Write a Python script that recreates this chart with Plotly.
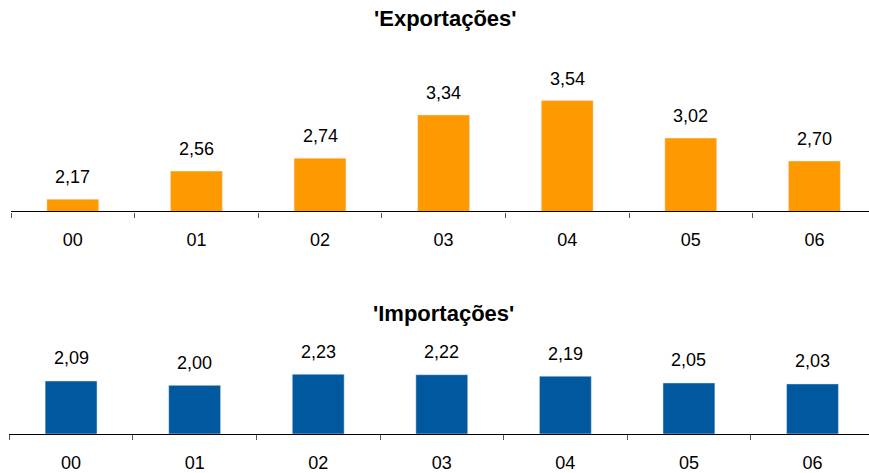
import plotly.graph_objects as go

categories = ["00", "01", "02", "03", "04", "05", "06"]
exportacoes = [2.17, 2.56, 2.74, 3.34, 3.54, 3.02, 2.70]
importacoes = [2.09, 2.00, 2.23, 2.22, 2.19, 2.05, 2.03]
title_exp = "'Exportações'"
title_imp = "'Importações'"

W, H = 869, 473
FONT = "Liberation Sans, Arial, sans-serif"
ORANGE = "#FF9900"
BLUE = "#00599E"


def fmt(v):
    return f"{v:.2f}".replace(".", ",")


fig = go.Figure()
fig.add_trace(go.Bar(x=categories, y=exportacoes, marker_color=ORANGE, width=0.42,
                     xaxis="x", yaxis="y", hoverinfo="skip"))
fig.add_trace(go.Bar(x=categories, y=importacoes, marker_color=BLUE, width=0.42,
                     xaxis="x2", yaxis="y2", hoverinfo="skip"))

annotations = []
for c, v in zip(categories, exportacoes):
    annotations.append(dict(x=c, y=v, xref="x", yref="y", text=fmt(v), showarrow=False,
                            yanchor="middle", yshift=22,
                            font=dict(family=FONT, size=18, color="#000000")))
for c, v in zip(categories, importacoes):
    annotations.append(dict(x=c, y=v, xref="x2", yref="y2", text=fmt(v), showarrow=False,
                            yanchor="middle", yshift=22.5,
                            font=dict(family=FONT, size=18, color="#000000")))
annotations.append(dict(x=445.5 / W, y=1 - 18.3 / H, xref="paper", yref="paper",
                        text="<b>" + title_exp + "</b>", showarrow=False,
                        xanchor="center", yanchor="middle",
                        font=dict(family=FONT, size=22, color="#000000")))
annotations.append(dict(x=443 / W, y=1 - 315.3 / H, xref="paper", yref="paper",
                        text="<b>" + title_imp + "</b>", showarrow=False,
                        xanchor="center", yanchor="middle",
                        font=dict(family=FONT, size=22, color="#000000")))

xcommon = dict(type="category", showline=True, linecolor="#000000", linewidth=1.3,
               ticks="outside", tickson="boundaries", ticklen=5, tickcolor="#555555",
               tickwidth=1.3, showgrid=False, zeroline=False, ticklabelstandoff=12,
               tickfont=dict(family=FONT, size=18, color="#000000"), fixedrange=True)
ycommon = dict(visible=False, showgrid=False, zeroline=False, fixedrange=True)

fig.update_layout(
    width=W, height=H,
    margin=dict(l=0, r=0, t=0, b=0),
    paper_bgcolor="white", plot_bgcolor="white",
    showlegend=False,
    bargap=0.58,
    xaxis=dict(xcommon, domain=[11 / W, 1], range=[-0.5, -0.5 + 858 / 123.6], anchor="y"),
    yaxis=dict(ycommon, domain=[(H - 212.3) / H, (H - 67.8) / H], range=[2.0, 4.0], anchor="x"),
    xaxis2=dict(xcommon, domain=[9.3 / W, 1], range=[-0.5, -0.5 + 859.7 / 123.57], anchor="y2"),
    yaxis2=dict(ycommon, domain=[(H - 435.7) / H, (H - 338.3) / H], range=[1.0, 3.0], anchor="x2"),
    annotations=annotations,
)

fig.write_html("out.html")
